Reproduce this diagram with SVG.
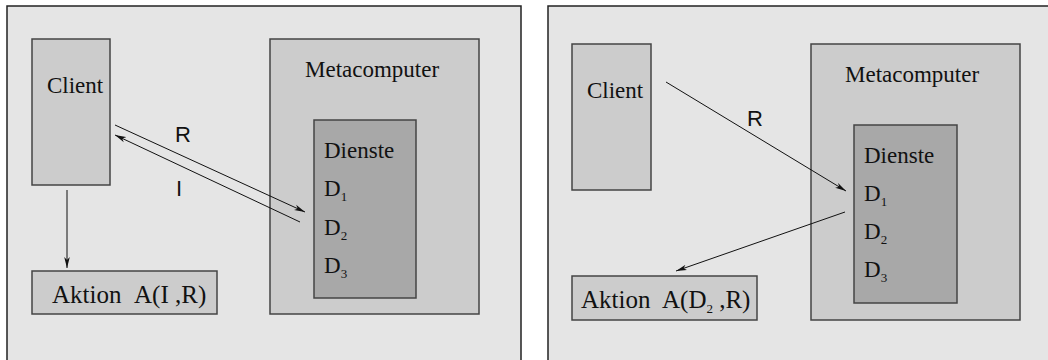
<svg xmlns="http://www.w3.org/2000/svg" width="1048" height="360" viewBox="0 0 1048 360">
  <style>
    .panel { fill: #e5e5e5; stroke: #222; stroke-width: 1.5; }
    .box { fill: #cccccc; stroke: #444; stroke-width: 1.5; }
    .inner { fill: #a8a8a8; stroke: #444; stroke-width: 1.5; }
    .serif { font-family: "Liberation Serif", "Times New Roman", serif; font-size: 23px; fill: #111; }
    .big { font-size: 25px; }
    .sub { font-size: 13px; }
    .lbl { font-family: "Liberation Sans", Arial, sans-serif; font-size: 22px; fill: #111; }
    .conn { stroke: #111; stroke-width: 1; fill: none; marker-end: url(#arrow); }
  </style>
  <defs>
    <marker id="arrow" markerUnits="userSpaceOnUse" markerWidth="12" markerHeight="8" refX="11" refY="4" orient="auto">
      <path d="M0,1.2 L11,4 L0,6.8 L3,4 z" fill="#111"/>
    </marker>
  </defs>
  <rect width="1048" height="360" fill="#ffffff"/>

  <!-- left scenario -->
  <g id="panel-left">
    <rect class="panel" x="7" y="6" width="514" height="360"/>
  </g>
  <g id="client-left">
    <rect class="box" x="32" y="39" width="78" height="146"/>
    <text class="serif" x="47" y="93" font-size="24">Client</text>
  </g>
  <g id="metacomputer-left">
    <rect class="box" x="270" y="39" width="209" height="275"/>
    <text class="serif" x="305" y="77">Metacomputer</text>
  </g>
  <g id="dienste-left">
    <rect class="inner" x="314" y="120" width="102" height="178"/>
    <text class="serif" x="324" y="158">Dienste</text>
    <text class="serif" x="324" y="196">D<tspan class="sub" dy="5">1</tspan></text>
    <text class="serif" x="324" y="235">D<tspan class="sub" dy="5">2</tspan></text>
    <text class="serif" x="324" y="273">D<tspan class="sub" dy="5">3</tspan></text>
  </g>
  <g id="aktion-left">
    <rect class="box" x="32" y="271" width="185" height="43"/>
    <text class="serif big" x="52" y="303">Aktion</text>
    <text class="serif big" x="134" y="303">A(I ,R)</text>
  </g>
  <g id="connectors-left">
    <line class="conn" x1="67" y1="190" x2="67" y2="268"/>
    <line class="conn" x1="115" y1="125" x2="305" y2="212"/>
    <line class="conn" x1="300" y1="222" x2="115" y2="135"/>
    <text class="lbl" x="175" y="142">R</text>
    <text class="lbl" x="176" y="196">I</text>
  </g>

  <!-- right scenario -->
  <g id="panel-right">
    <rect class="panel" x="548" y="6" width="510" height="360"/>
  </g>
  <g id="client-right">
    <rect class="box" x="572" y="44" width="79" height="146"/>
    <text class="serif" x="587" y="98" font-size="24">Client</text>
  </g>
  <g id="metacomputer-right">
    <rect class="box" x="811" y="44" width="209" height="276"/>
    <text class="serif" x="845" y="82">Metacomputer</text>
  </g>
  <g id="dienste-right">
    <rect class="inner" x="854" y="125" width="103" height="178"/>
    <text class="serif" x="864" y="163">Dienste</text>
    <text class="serif" x="864" y="201">D<tspan class="sub" dy="5">1</tspan></text>
    <text class="serif" x="864" y="239">D<tspan class="sub" dy="5">2</tspan></text>
    <text class="serif" x="864" y="277">D<tspan class="sub" dy="5">3</tspan></text>
  </g>
  <g id="aktion-right">
    <rect class="box" x="572" y="276" width="185" height="44"/>
    <text class="serif big" x="581" y="308">Aktion</text>
    <text class="serif big" x="662" y="308">A(D<tspan class="sub" dy="5">2</tspan><tspan dy="-5"> ,R)</tspan></text>
  </g>
  <g id="connectors-right">
    <line class="conn" x1="666" y1="82" x2="846" y2="191"/>
    <line class="conn" x1="845" y1="212" x2="676" y2="271"/>
    <text class="lbl" x="747" y="126">R</text>
  </g>
</svg>
